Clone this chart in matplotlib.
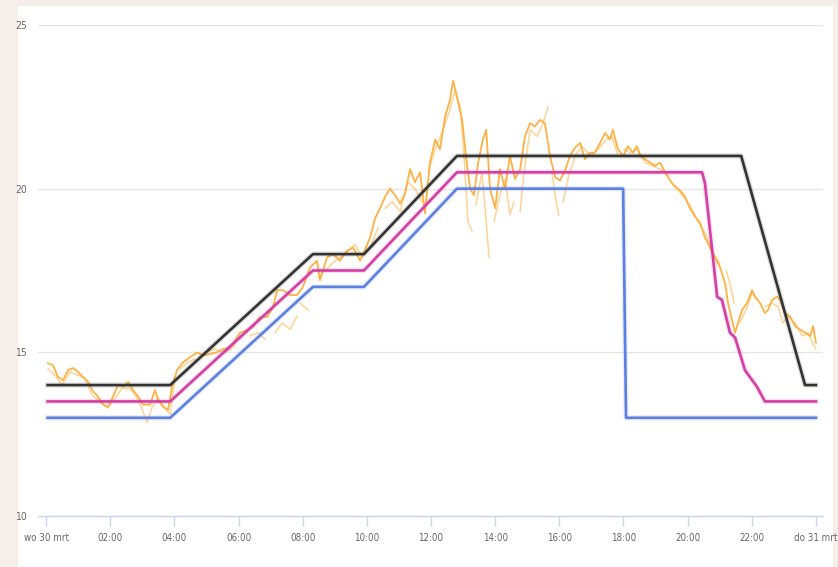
import numpy as np
import matplotlib.pyplot as plt
import matplotlib.patheffects as pe
from matplotlib.patches import Rectangle

# setpoint schedules (hours since 00:00, degrees C)
black_t = [0.05, 3.87, 8.32, 9.91, 12.81, 21.67, 23.66, 24.0]
black_v = [14.0, 14.0, 18.0, 18.0, 21.0, 21.0, 14.0, 14.0]

pink_t = [0.05, 3.87, 8.32, 9.91, 12.81, 20.45, 20.54, 20.92, 21.07, 21.32, 21.48, 21.79, 22.16, 22.41, 24.0]
pink_v = [13.5, 13.5, 17.5, 17.5, 20.5, 20.5, 20.17, 16.7, 16.6, 15.6, 15.45, 14.45, 13.95, 13.5, 13.5]

blue_t = [0.05, 3.87, 8.32, 9.91, 12.81, 17.99, 18.08, 24.0]
blue_v = [13.0, 13.0, 17.0, 17.0, 20.0, 20.0, 13.0, 13.0]

# measured temperature, sensor 1
temp_t = [0.06, 0.22, 0.37, 0.53, 0.69, 0.84, 1.00, 1.15, 1.31, 1.47, 1.62, 1.78, 1.93, 2.09, 2.24,
          2.40, 2.56, 2.71, 2.87, 3.02, 3.24, 3.40, 3.49, 3.65, 3.80, 3.93, 4.08, 4.27, 4.49, 4.71,
          4.89, 5.11, 5.33, 5.52, 5.64, 5.83, 6.05, 6.27, 6.45, 6.67, 6.89, 7.08, 7.20, 7.39, 7.61,
          7.82, 8.01, 8.23, 8.45, 8.54, 8.76, 8.95, 9.16, 9.38, 9.57, 9.79, 9.88, 10.10, 10.26, 10.41,
          10.57, 10.72, 10.88, 11.04, 11.19, 11.35, 11.50, 11.66, 11.81, 11.97, 12.13, 12.28, 12.44,
          12.59, 12.69, 12.81, 12.97, 13.09, 13.22, 13.34, 13.47, 13.62, 13.72, 13.84, 14.00, 14.15,
          14.31, 14.46, 14.62, 14.78, 14.93, 15.09, 15.24, 15.40, 15.55, 15.71, 15.87, 16.02, 16.18,
          16.33, 16.49, 16.65, 16.80, 16.96, 17.11, 17.27, 17.43, 17.58, 17.67, 17.83, 17.99, 18.14,
          18.30, 18.42, 18.52, 18.67, 18.83, 18.98, 19.14, 19.30, 19.45, 19.61, 19.76, 19.92, 20.07,
          20.23, 20.39, 20.54, 20.70, 20.85, 21.01, 21.17, 21.26, 21.38, 21.48, 21.57, 21.70, 21.85,
          22.01, 22.10, 22.26, 22.41, 22.51, 22.63, 22.79, 22.88, 23.04, 23.19, 23.35, 23.50, 23.66,
          23.82, 23.91, 24.00]
temp_v = [14.67, 14.60, 14.25, 14.15, 14.46, 14.52, 14.40, 14.25, 14.10, 13.80, 13.65, 13.40, 13.33,
          13.65, 14.00, 13.95, 14.10, 13.85, 13.65, 13.40, 13.40, 13.85, 13.55, 13.33, 13.24, 13.95,
          14.45, 14.70, 14.85, 15.00, 14.90, 14.95, 15.00, 15.10, 15.12, 15.28, 15.60, 15.68, 15.77,
          16.08, 16.08, 16.38, 16.90, 16.90, 16.75, 16.75, 17.00, 17.60, 17.80, 17.20, 17.90, 18.00,
          17.80, 18.10, 18.20, 17.80, 18.00, 18.50, 19.10, 19.40, 19.75, 20.00, 19.80, 19.55, 19.85,
          20.60, 20.20, 20.50, 19.25, 20.80, 21.50, 21.20, 22.20, 22.70, 23.30, 22.80, 22.10, 21.00,
          20.00, 19.80, 20.80, 21.50, 21.80, 20.00, 19.40, 20.60, 20.00, 21.00, 20.30, 20.60, 21.60,
          22.00, 21.90, 22.10, 22.00, 21.00, 20.35, 20.25, 20.55, 21.00, 21.25, 21.40, 20.90, 21.10,
          21.10, 21.40, 21.70, 21.50, 21.80, 21.20, 21.00, 21.30, 21.10, 21.30, 21.00, 20.90, 20.80,
          20.70, 20.80, 20.50, 20.25, 20.05, 19.95, 19.75, 19.40, 19.15, 18.95, 18.50, 18.20, 17.90,
          17.60, 17.10, 16.50, 16.00, 15.60, 15.90, 16.30, 16.50, 16.90, 16.70, 16.50, 16.20, 16.30,
          16.60, 16.70, 16.60, 16.20, 16.10, 15.80, 15.70, 15.60, 15.50, 15.80, 15.30]

# measured temperature, sensor 2 (gaps in the data)
nan = np.nan
temp2_t = [0.06, 0.28, 0.50, 0.75, 1.00, 1.22, 1.43, 1.68, 1.93, 2.15, 2.37, 2.62, 2.84, 3.02, 3.15,
           3.30, 3.49, 3.71, 3.87, 4.02, 4.10, 4.18, 4.43, 4.64, 4.80, 4.96, 5.27, 5.58, 5.89, 6.10,
           6.36, 6.61, 6.83, 7.00, 7.14, 7.36, 7.61, 7.82, 7.87, 7.92, 8.17, 8.30, 8.48, 8.70, 9.01,
           9.32, 9.63, 9.85, 10.10, 10.35, 10.45, 10.57, 10.79, 11.04, 11.28, 11.50, 11.72, 11.80,
           11.91, 12.13, 12.34, 12.59, 12.75, 12.91, 13.03, 13.15, 13.28, 13.34, 13.40, 13.59, 13.72,
           13.81, 13.90, 13.97, 14.15, 14.31, 14.46, 14.59, 14.70, 14.78, 14.90, 15.09, 15.31, 15.49,
           15.65, 15.70, 15.77, 15.90, 15.99, 16.05, 16.12, 16.27, 16.49, 16.71, 16.96, 17.21, 17.46,
           17.64, 17.83, 17.92, 18.02, 18.20, 18.45, 18.67, 18.89, 19.14, 19.39, 19.50, 19.61, 19.83,
           20.07, 20.32, 20.57, 20.82, 21.01, 21.10, 21.20, 21.32, 21.45, 21.55, 21.63, 21.82, 22.01,
           22.19, 22.30, 22.41, 22.63, 22.82, 22.97, 23.13, 23.35, 23.57, 23.75, 23.94, 24.00]
temp2_v = [14.50, 14.30, 14.00, 14.40, 14.30, 14.20, 13.70, 13.50, 13.30, 13.60, 13.90, 13.90, 13.60,
           13.20, 12.85, 13.30, 13.60, 13.30, 13.10, 14.20, nan, 14.50, 14.70, 14.80, nan, 15.00,
           15.10, 15.00, 15.20, nan, 15.50, 15.60, 15.40, nan, 15.60, 15.90, 15.70, 16.10, nan, 16.50,
           16.30, nan, 17.30, 17.50, 17.80, 18.00, 18.30, 17.90, 18.20, 18.80, nan, 19.40, 19.60,
           19.30, 20.20, 20.00, 19.60, nan, 20.50, 21.20, 21.70, 22.40, 23.00, 22.50, 21.00, 19.00,
           18.70, nan, 19.50, 20.50, 19.00, 17.90, nan, 19.00, 19.80, 20.30, 19.20, 19.60, nan, 19.30,
           20.50, 21.80, 21.60, 22.00, 22.50, nan, 20.50, 19.60, 19.20, nan, 19.60, 20.30, 21.00,
           21.30, 21.00, 21.20, 21.50, 21.60, 21.00, nan, 21.20, 21.10, 21.20, 20.80, 20.70, 20.60,
           20.40, nan, 20.10, 19.80, 19.50, 19.00, 18.60, 18.00, 17.70, nan, 17.50, 17.10, 16.50, nan,
           15.90, 16.30, 16.80, 16.60, nan, 16.40, 16.50, 16.40, 15.90, 16.10, 15.90, 15.50, 15.60,
           15.20, 15.10]

x_ticks = [0, 2, 4, 6, 8, 10, 12, 14, 16, 18, 20, 22, 24]
x_labels = ["wo 30 mrt", "02:00", "04:00", "06:00", "08:00", "10:00", "12:00",
            "14:00", "16:00", "18:00", "20:00", "22:00", "do 31 mrt"]
y_ticks = [10, 15, 20, 25]

plt.rcParams['font.family'] = ['DejaVu Sans']
plt.rcParams['font.stretch'] = 'condensed'

fig = plt.figure(figsize=(8.38, 5.67), dpi=100, facecolor='#f6eeeb')
fig.patches.append(Rectangle((18 / 838, 0), 815 / 838, 561 / 567, transform=fig.transFigure,
                             facecolor='white', edgecolor='none', zorder=-5))
ax = fig.add_axes([38 / 838, 51 / 567, 785 / 838, 491 / 567])
ax.set_facecolor('none')
ax.set_zorder(1)


def glow(color):
    return [pe.Stroke(linewidth=3.8, foreground=color, alpha=0.15), pe.Normal()]


ax.plot(temp2_t, temp2_v, color='#ffb74d', lw=1.1, alpha=0.6, zorder=2)
ax.plot(temp_t, temp_v, color='#ffad3b', lw=1.3, alpha=0.95, zorder=3)
ax.plot(blue_t, blue_v, color='#5b80e0', lw=1.9, zorder=4, path_effects=glow('#5b80e0'))
ax.plot(pink_t, pink_v, color='#d43fa3', lw=1.9, zorder=5, path_effects=glow('#d43fa3'))
ax.plot(black_t, black_v, color='#333333', lw=1.9, zorder=6, path_effects=glow('#333333'))

ax.set_xlim(-0.25, 24.22)
ax.set_ylim(10, 25)
ax.set_xticks(x_ticks)
ax.set_xticklabels(x_labels)
ax.set_yticks(y_ticks)

for s in ['top', 'right', 'left']:
    ax.spines[s].set_visible(False)
ax.spines['bottom'].set_color('#ccd6eb')
ax.spines['bottom'].set_linewidth(1)

ax.grid(axis='y', color='#e6e6e6', lw=1)
ax.set_axisbelow(True)
ax.tick_params(axis='x', length=7, width=1, color='#ccd6eb', pad=5, labelsize=7, labelcolor='#666666')
ax.tick_params(axis='y', length=0, pad=8, labelsize=7.5, labelcolor='#666666')

fig.savefig('out.png', dpi=100, facecolor=fig.get_facecolor())
